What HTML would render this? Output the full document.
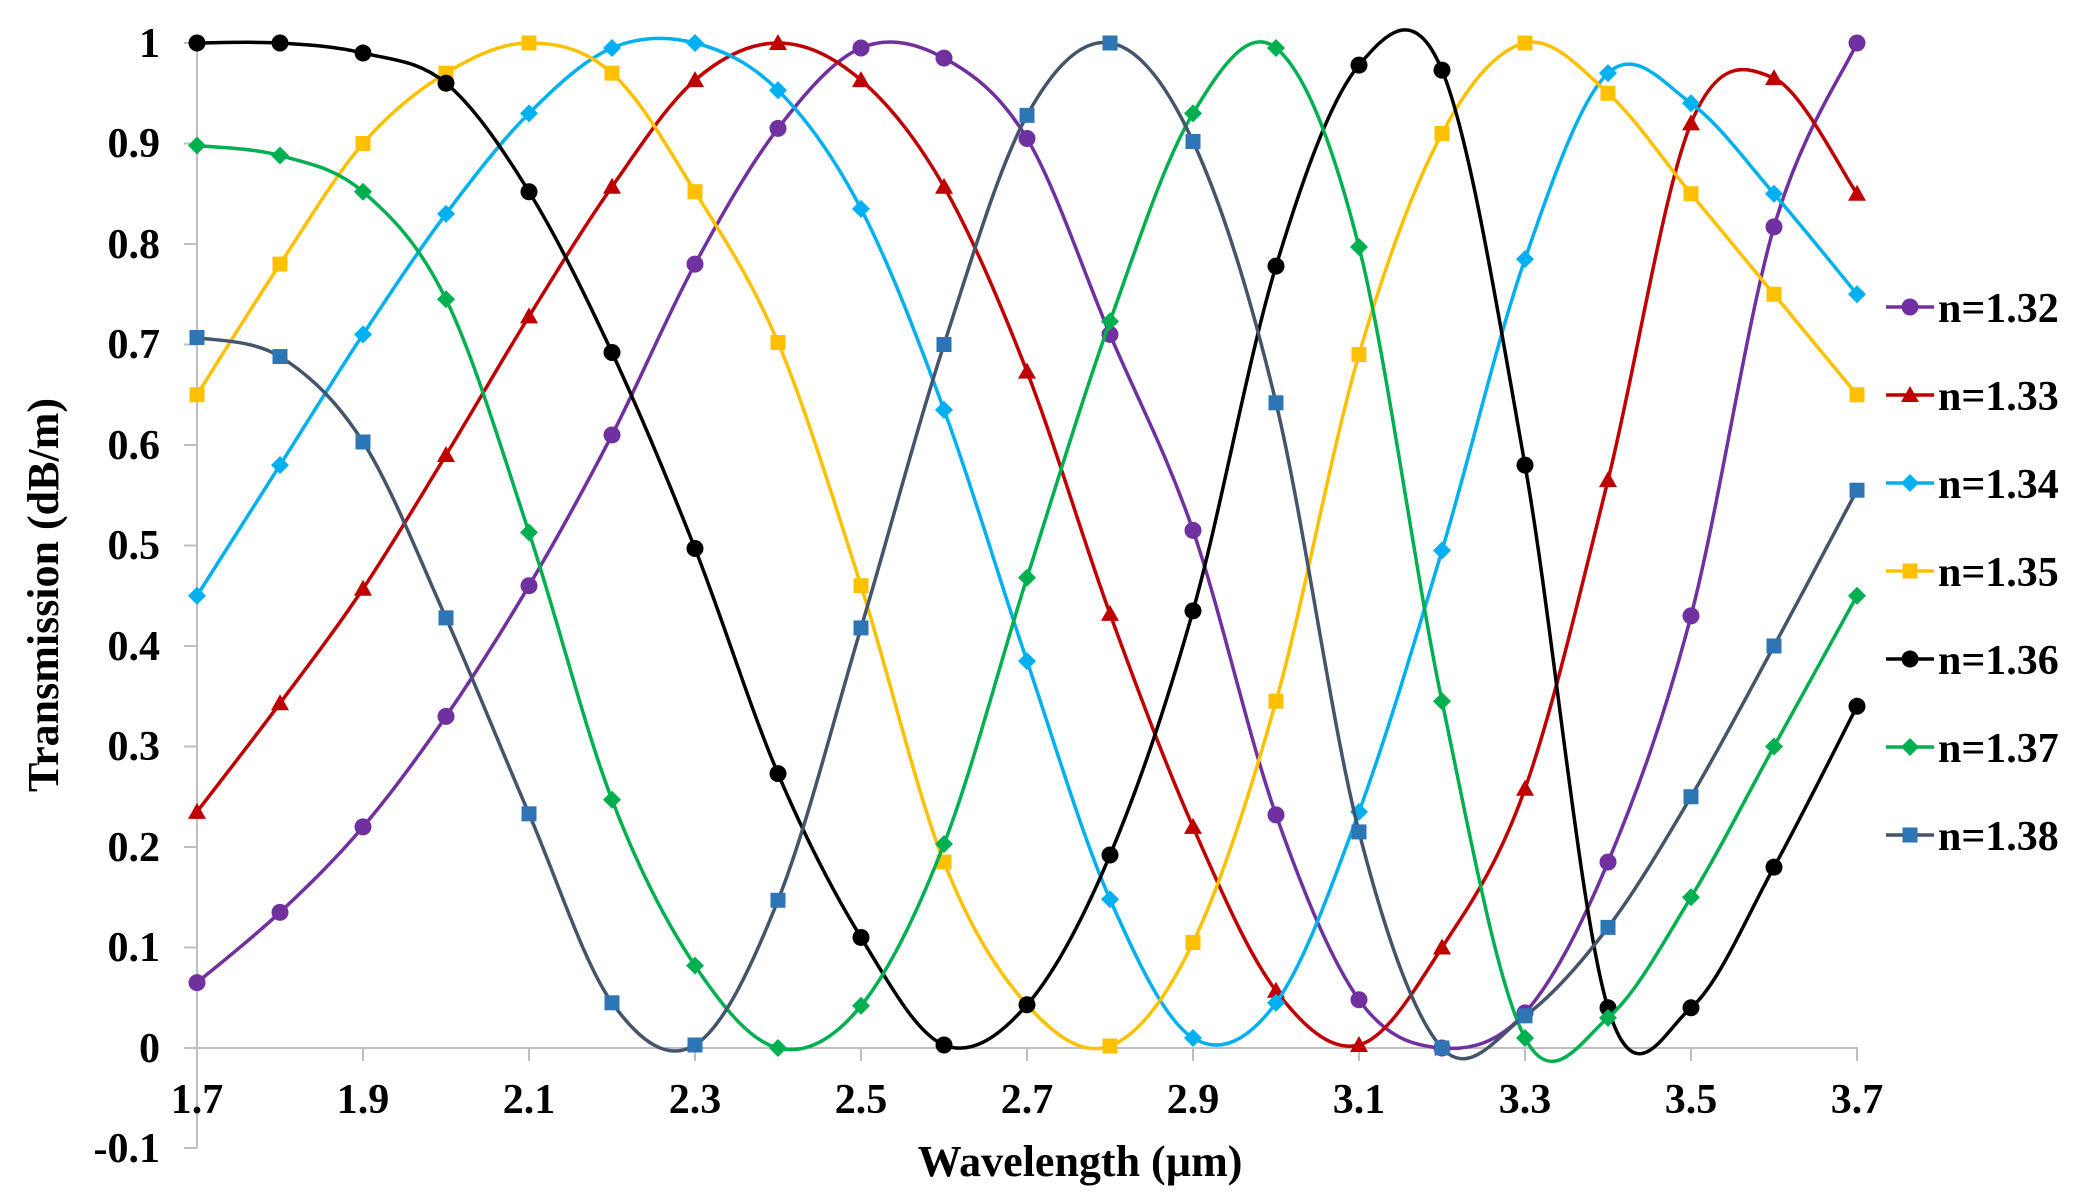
<!DOCTYPE html>
<html><head><meta charset="utf-8"><style>
html,body{margin:0;padding:0;background:#fff;}
svg{display:block;}
text{font-family:"Liberation Serif",serif;font-weight:bold;fill:#000;}
</style></head><body>
<svg id="s" width="2075" height="1196" viewBox="0 0 2075 1196" xmlns="http://www.w3.org/2000/svg">
<g stroke="#bfbfbf" stroke-width="2" fill="none">
<line x1="197" y1="43" x2="197" y2="1148"/>
<line x1="184" y1="1048" x2="1858" y2="1048"/>
<path d="M184 43H197M184 143.5H197M184 244H197M184 344.5H197M184 445H197M184 545.5H197M184 646H197M184 746.5H197M184 847H197M184 947.5H197M184 1148H197"/>
<path d="M363 1048V1061M529 1048V1061M695 1048V1061M861 1048V1061M1027 1048V1061M1193 1048V1061M1359 1048V1061M1525 1048V1061M1691 1048V1061M1857 1048V1061"/>
</g>
<g font-size="42" text-anchor="end">
<text x="160" y="57">1</text><text x="160" y="157">0.9</text><text x="160" y="258">0.8</text><text x="160" y="358">0.7</text><text x="160" y="459">0.6</text><text x="160" y="559">0.5</text><text x="160" y="660">0.4</text><text x="160" y="760">0.3</text><text x="160" y="861">0.2</text><text x="160" y="961">0.1</text><text x="160" y="1062">0</text><text x="160" y="1162">-0.1</text>
</g>
<g font-size="42" text-anchor="middle">
<text x="197" y="1113">1.7</text><text x="363" y="1113">1.9</text><text x="529" y="1113">2.1</text><text x="695" y="1113">2.3</text><text x="861" y="1113">2.5</text><text x="1027" y="1113">2.7</text><text x="1193" y="1113">2.9</text><text x="1359" y="1113">3.1</text><text x="1525" y="1113">3.3</text><text x="1691" y="1113">3.5</text><text x="1857" y="1113">3.7</text>
</g>
<text x="1080" y="1176" font-size="44" text-anchor="middle">Wavelength (µm)</text>
<text transform="translate(58,595) rotate(-90)" font-size="44" text-anchor="middle">Transmission (dB/m)</text>
<g id="plot"></g>
<g id="leg"></g>
<g font-size="42">
<text x="1938" y="322">n=1.32</text><text x="1938" y="410">n=1.33</text><text x="1938" y="498">n=1.34</text><text x="1938" y="586">n=1.35</text><text x="1938" y="674">n=1.36</text><text x="1938" y="762">n=1.37</text><text x="1938" y="850">n=1.38</text>
</g>
</svg>
<script>
var S=[
["#7030A0","#7030A0","c",[0.065,0.135,0.22,0.33,0.46,0.61,0.78,0.915,0.995,0.985,0.905,0.71,0.515,0.232,0.048,0.0,0.035,0.185,0.43,0.817,1.0]],
["#C00000","#C00000","t",[0.235,0.343,0.457,0.59,0.728,0.857,0.963,1.0,0.963,0.857,0.673,0.432,0.22,0.057,0.003,0.1,0.258,0.565,0.92,0.965,0.85]],
["#00B0F0","#00B0F0","d",[0.45,0.58,0.71,0.83,0.93,0.995,1.0,0.953,0.835,0.635,0.385,0.148,0.01,0.045,0.235,0.495,0.785,0.97,0.94,0.85,0.75]],
["#FFC000","#FFC000","s",[0.65,0.78,0.9,0.97,1.0,0.97,0.852,0.702,0.46,0.185,0.043,0.002,0.105,0.345,0.69,0.91,1.0,0.95,0.85,0.75,0.65]],
["#000000","#000000","c",[1.0,1.0,0.99,0.96,0.852,0.692,0.497,0.273,0.11,0.003,0.043,0.192,0.435,0.778,0.978,0.973,0.58,0.04,0.04,0.18,0.34]],
["#00B050","#00B050","d",[0.898,0.888,0.852,0.745,0.513,0.247,0.082,0.0,0.042,0.203,0.468,0.723,0.93,0.995,0.797,0.345,0.01,0.03,0.15,0.3,0.45]],
["#44546A","#2E75B6","s",[0.707,0.688,0.603,0.428,0.233,0.045,0.003,0.147,0.418,0.7,0.928,1.0,0.902,0.642,0.215,0.0,0.032,0.12,0.25,0.4,0.555]]
];
function X(i){return 197+83*i;}function Y(v){return 1048-1005*v;}
function mk(t,x,y,c){
 if(t=="c")return '<circle cx="'+x+'" cy="'+y+'" r="8.5" fill="'+c+'"/>';
 if(t=="s")return '<rect x="'+(x-7.5)+'" y="'+(y-7.5)+'" width="15" height="15" fill="'+c+'"/>';
 if(t=="d")return '<path d="M'+x+' '+(y-9)+'L'+(x+9)+' '+y+'L'+x+' '+(y+9)+'L'+(x-9)+' '+y+'Z" fill="'+c+'"/>';
 return '<path d="M'+x+' '+(y-9)+'L'+(x+9)+' '+(y+7)+'L'+(x-9)+' '+(y+7)+'Z" fill="'+c+'"/>';
}
var h='',L='';
S.forEach(function(s,k){
 var p=s[3].map(function(v,i){return [X(i),Y(v)];}),n=p.length,d='M'+p[0][0]+' '+p[0][1];
 for(var i=0;i<n-1;i++){var p0=p[Math.max(i-1,0)],p1=p[i],p2=p[i+1],p3=p[Math.min(i+2,n-1)];
  d+='C'+(p1[0]+(p2[0]-p0[0])/6)+' '+(p1[1]+(p2[1]-p0[1])/6)+' '+(p2[0]-(p3[0]-p1[0])/6)+' '+(p2[1]-(p3[1]-p1[1])/6)+' '+p2[0]+' '+p2[1];}
 h+='<path d="'+d+'" fill="none" stroke="'+s[0]+'" stroke-width="3.5"/>';
 p.forEach(function(q){h+=mk(s[2],q[0],q[1],s[1]);});
 var ly=307+88*k;
 L+='<line x1="1886" y1="'+ly+'" x2="1934" y2="'+ly+'" stroke="'+s[0]+'" stroke-width="3.5"/>'+mk(s[2],1910,ly,s[1]);
});
document.getElementById('plot').innerHTML=h;document.getElementById('leg').innerHTML=L;
</script>
</body></html>
